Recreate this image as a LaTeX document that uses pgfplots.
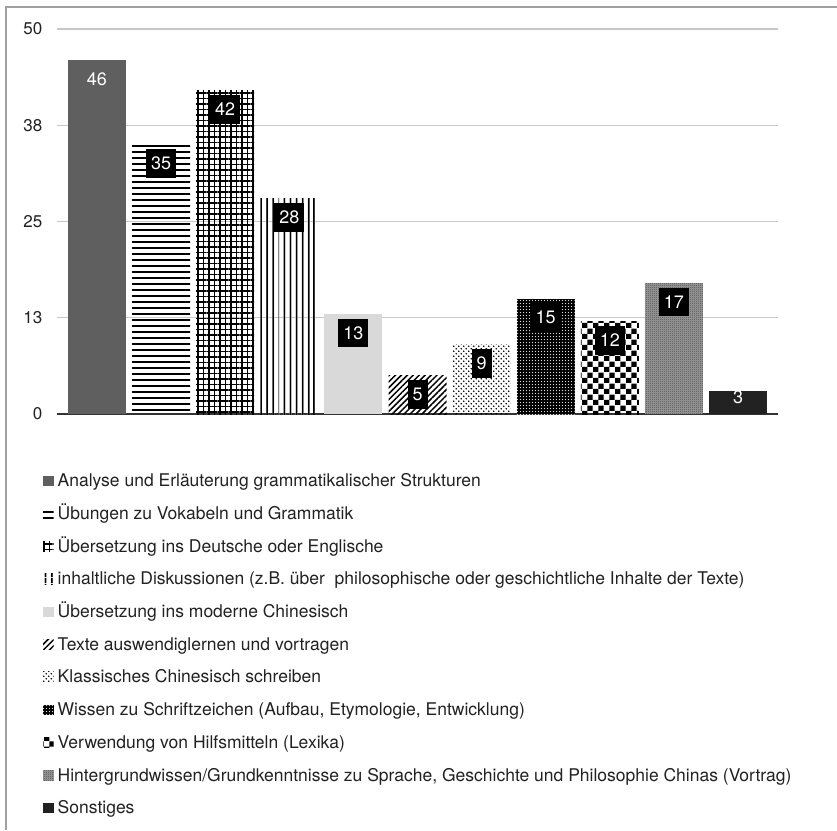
\documentclass[border=0pt]{standalone}
\usepackage{fontspec}
\setmainfont{TeX Gyre Heros}
\usepackage{pgfplots}
\pgfplotsset{compat=1.18}
\usetikzlibrary{patterns,patterns.meta}

\definecolor{bardark}{HTML}{5F5F5F}
\definecolor{barlight}{HTML}{D9D9D9}
\definecolor{barblack}{HTML}{222222}
\definecolor{midgray}{HTML}{9A9A9A}
\definecolor{gridgray}{HTML}{C8C8C8}
\definecolor{framegray}{HTML}{A0A0A0}
\definecolor{txt}{HTML}{222222}

% checkerboard with 5.6pt cells
\pgfdeclarepatternformonly{bigchecker}{\pgfpointorigin}{\pgfpoint{11.2pt}{11.2pt}}{\pgfpoint{11.2pt}{11.2pt}}{%
  \pgfpathrectangle{\pgfpointorigin}{\pgfpoint{5.6pt}{5.6pt}}%
  \pgfpathrectangle{\pgfpoint{5.6pt}{5.6pt}}{\pgfpoint{5.6pt}{5.6pt}}%
  \pgfusepath{fill}}
% fine checkerboard, reads as mid grey
\pgfdeclarepatternformonly{finechecker}{\pgfpointorigin}{\pgfpoint{2pt}{2pt}}{\pgfpoint{2pt}{2pt}}{%
  \pgfpathrectangle{\pgfpointorigin}{\pgfpoint{1pt}{1pt}}%
  \pgfpathrectangle{\pgfpoint{1pt}{1pt}}{\pgfpoint{1pt}{1pt}}%
  \pgfusepath{fill}}
% staggered sparse dots
\pgfdeclarepatternformonly{sparsedots}{\pgfpoint{-1pt}{-1pt}}{\pgfpoint{6pt}{6pt}}{\pgfpoint{5pt}{5pt}}{%
  \pgfpathcircle{\pgfpoint{1.25pt}{1.25pt}}{0.95pt}%
  \pgfpathcircle{\pgfpoint{3.75pt}{3.75pt}}{0.95pt}%
  \pgfusepath{fill}}
% small dots on a tight grid (drawn white over black)
\pgfdeclarepatternformonly{tightdots}{\pgfpoint{-1pt}{-1pt}}{\pgfpoint{4pt}{4pt}}{\pgfpoint{3pt}{3pt}}{%
  \pgfpathcircle{\pgfpoint{1.5pt}{1.5pt}}{0.65pt}%
  \pgfusepath{fill}}

\pgfplotsset{
  onebar/.style={draw=none, bar shift=0pt, bar width=58pt},
  boxlabel/.style={every node near coord/.append style={fill=black, text=white}},
}

\begin{document}
\begin{tikzpicture}
\path[use as bounding box] (0pt,0pt) rectangle (837pt,830pt);
\fill[white] (0pt,0pt) rectangle (837pt,830pt);
\draw[framegray, line width=1.3pt] (6pt,0pt) -- (6pt,823pt) -- (837pt,823pt);
\begin{axis}[
  at={(57pt,416pt)}, anchor=south west,
  scale only axis, width=721pt, height=385pt,
  ybar,
  xmin=-0.624, xmax=10.624, ymin=0, ymax=50,
  xtick=\empty,
  ytick={0,12.5,25,37.5,50},
  yticklabels={0,13,25,38,50},
  /pgf/number format/assume math mode=true,
  ymajorgrids,
  grid style={gridgray, line width=1.2pt},
  axis x line*=bottom,
  axis y line*=left,
  y axis line style={draw=none},
  x axis line style={draw=black!80, line width=1.3pt, -},
  major tick length=0pt,
  yticklabel style={font=\fontsize{17pt}{20pt}\selectfont, text=txt, inner sep=0pt, xshift=-14.5pt},
  nodes near coords,
  nodes near coords align={center},
  every node near coord/.append style={font=\fontsize{18pt}{21pt}\selectfont, text=white,
    inner xsep=5pt, inner ysep=7.8pt, yshift=-19pt},
  legend cell align=left,
  legend style={at={(-0.0194,-0.156)}, anchor=north west, draw=none, fill=none,
    inner sep=0pt, row sep=15.7pt, column sep=4pt,
    font=\fontsize{17.5pt}{20pt}\selectfont,
    nodes={inner sep=0pt, text height=12.5pt, text depth=4.5pt, text=txt}},
  legend image code/.code={\path[#1, draw=none] (0pt,-3.5pt) rectangle (10.5pt,7pt);},
]
\addplot[onebar, fill=bardark] coordinates {(0,46)};
\addlegendentry{Analyse und Erläuterung grammatikalischer Strukturen}
\addplot[onebar, boxlabel, pattern={Lines[angle=0,distance=6pt,line width=2pt]}] coordinates {(1,35)};
\addlegendentry{Übungen zu Vokabeln und Grammatik}
\addplot[onebar, boxlabel, pattern={Hatch[angle=0,distance=5.5pt,line width=1.1pt]}] coordinates {(2,42)};
\addlegendentry{Übersetzung ins Deutsche oder Englische}
\addplot[onebar, boxlabel, pattern={Lines[angle=90,distance=6.4pt,line width=1.7pt]}] coordinates {(3,28)};
\addlegendentry{inhaltliche Diskussionen (z.B. über\ \ philosophische oder geschichtliche Inhalte der Texte)}
\addplot[onebar, boxlabel, fill=barlight] coordinates {(4,13)};
\addlegendentry{Übersetzung ins moderne Chinesisch}
\addplot[onebar, boxlabel, pattern={Lines[angle=45,distance=4.2pt,line width=1.5pt]}] coordinates {(5,5)};
\addlegendentry{Texte auswendiglernen und vortragen}
\addplot[onebar, boxlabel, pattern=sparsedots, pattern color=black] coordinates {(6,9)};
\addlegendentry{Klassisches Chinesisch schreiben}
\addplot[onebar, boxlabel, fill=black, postaction={pattern=tightdots, pattern color=white!85!black}] coordinates {(7,15)};
\addlegendentry{Wissen zu Schriftzeichen (Aufbau, Etymologie, Entwicklung)}
\addplot[onebar, boxlabel, pattern=bigchecker] coordinates {(8,12)};
\addlegendentry{Verwendung von Hilfsmitteln (Lexika)}
\addplot[onebar, boxlabel, fill=midgray, postaction={pattern=finechecker, pattern color=black!70}] coordinates {(9,17)};
\addlegendentry{Hintergrundwissen/Grundkenntnisse zu Sprache, Geschichte und Philosophie Chinas (Vortrag)}
\addplot[onebar, fill=barblack, every node near coord/.append style={yshift=13pt}] coordinates {(10,3)};
\addlegendentry{Sonstiges}
\end{axis}
\end{tikzpicture}
\end{document}
